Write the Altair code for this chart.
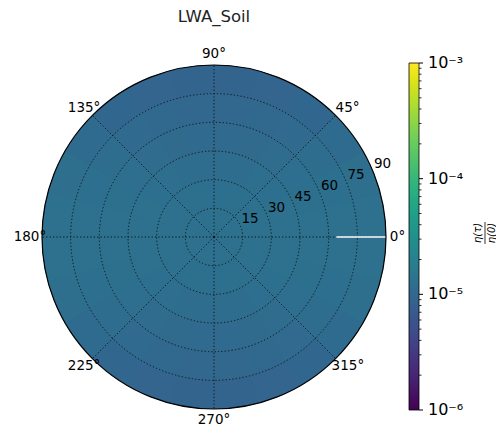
import math
import altair as alt
import pandas as pd

title_text = "LWA_Soil"
ring_edges = [0, 15, 30, 45, 60, 75, 90]
sector_step = 15
# eta(tau)/eta(0) in units of 1e-5; rows = rings (inner -> outer), columns = 15-degree sectors from 0 deg counter-clockwise
cell_values = [
    [1.30, 1.30, 1.30, 1.30, 1.30, 1.30, 1.30, 1.30, 1.30, 1.30, 1.30, 1.30,
     1.30, 1.30, 1.30, 1.30, 1.30, 1.30, 1.30, 1.30, 1.30, 1.30, 1.30, 1.30],
    [1.30, 1.29, 1.28, 1.26, 1.25, 1.24, 1.24, 1.25, 1.26, 1.28, 1.29, 1.30,
     1.30, 1.29, 1.28, 1.26, 1.25, 1.24, 1.24, 1.25, 1.26, 1.28, 1.29, 1.30],
    [1.30, 1.28, 1.24, 1.20, 1.17, 1.16, 1.16, 1.17, 1.20, 1.24, 1.28, 1.30,
     1.30, 1.28, 1.24, 1.20, 1.17, 1.16, 1.16, 1.17, 1.20, 1.24, 1.28, 1.30],
    [1.30, 1.26, 1.20, 1.13, 1.08, 1.06, 1.06, 1.08, 1.13, 1.20, 1.26, 1.30,
     1.30, 1.26, 1.20, 1.13, 1.08, 1.06, 1.06, 1.08, 1.13, 1.20, 1.26, 1.30],
    [1.30, 1.24, 1.15, 1.05, 0.99, 0.96, 0.96, 0.99, 1.05, 1.15, 1.24, 1.30,
     1.30, 1.24, 1.15, 1.05, 0.99, 0.96, 0.96, 0.99, 1.05, 1.15, 1.24, 1.30],
    [1.29, 1.22, 1.10, 0.98, 0.91, 0.88, 0.88, 0.91, 0.98, 1.10, 1.22, 1.29,
     1.29, 1.22, 1.10, 0.98, 0.91, 0.88, 0.88, 0.91, 0.98, 1.10, 1.22, 1.29],
]
base_value = 1.15e-5
grid_radii = [15, 30, 45, 60, 75]
outer_radius = 90
radial_ticks = [15, 30, 45, 60, 75, 90]
radial_label_angle = 22.5
angle_ticks = [0, 45, 90, 135, 180, 225, 270, 315]
angle_labels = ["0°", "45°", "90°", "135°", "180°", "225°", "270°", "315°"]
seam_r = [64, 90]
cbar_major = [1e-6, 1e-5, 1e-4, 1e-3]
cbar_major_labels = ["10⁻⁶", "10⁻⁵", "10⁻⁴", "10⁻³"]
cbar_minor = [2e-6, 3e-6, 4e-6, 5e-6, 6e-6, 7e-6, 8e-6, 9e-6,
              2e-5, 3e-5, 4e-5, 5e-5, 6e-5, 7e-5, 8e-5, 9e-5,
              2e-4, 3e-4, 4e-4, 5e-4, 6e-4, 7e-4, 8e-4, 9e-4]

W = 344
FONT = "DejaVu Sans"

theta_scale = alt.Scale(domain=[0, 360], range=[math.pi / 2, math.pi / 2 - 2 * math.pi])
r_scale = alt.Scale(type="linear", domain=[0, 90], range=[0, W / 2], zero=True, nice=False)
xs = alt.Scale(domain=[-90, 90], nice=False, zero=False)
ys = alt.Scale(domain=[-90, 90], nice=False, zero=False)
cscale = alt.Scale(type="log", domain=[1e-6, 1e-3], scheme="viridis")
cbar_y = alt.Scale(type="log", domain=[1e-6, 1e-3], range=[345, -2], nice=False)
cleg = alt.Legend(
    type="gradient", orient="none", legendX=367, legendY=-2, direction="vertical",
    gradientLength=347, gradientThickness=10, labelOpacity=0, labelFontSize=1,
    title=None, padding=0, gradientStrokeColor="black", gradientStrokeWidth=0.8)

rows = []
for i, ring in enumerate(cell_values):
    for j, v in enumerate(ring):
        rows.append({"t0": j * sector_step, "t1": (j + 1) * sector_step,
                     "r0": ring_edges[i], "r1": ring_edges[i + 1], "v": v * 1e-5})
cells_df = pd.DataFrame(rows)

base_df = pd.DataFrame({"r": [outer_radius], "t0": [0], "t1": [360], "v": [base_value]})
base = alt.Chart(base_df).mark_arc().encode(
    theta=alt.Theta("t0:Q", scale=theta_scale, stack=None),
    theta2="t1:Q",
    radius=alt.Radius("r:Q", scale=r_scale),
    color=alt.Color("v:Q", scale=cscale, legend=cleg),
)

cells = alt.Chart(cells_df).mark_arc().encode(
    theta=alt.Theta("t0:Q", scale=theta_scale, stack=None),
    theta2="t1:Q",
    radius=alt.Radius("r1:Q", scale=r_scale),
    radius2="r0:Q",
    color=alt.Color("v:Q", scale=cscale, legend=cleg),
)

circ_df = pd.DataFrame({"r": grid_radii, "t0": [0] * len(grid_radii), "t1": [360] * len(grid_radii)})
grid_circles = alt.Chart(circ_df).mark_arc(filled=False, stroke="#111", strokeWidth=1,
                                           strokeDash=[1.2, 2.2]).encode(
    theta=alt.Theta("t0:Q", scale=theta_scale, stack=None),
    theta2="t1:Q",
    radius=alt.Radius("r:Q", scale=r_scale),
)

spoke_df = pd.DataFrame({"a": angle_ticks})
spoke_df["x0"] = 0.0
spoke_df["y0"] = 0.0
spoke_df["x1"] = [outer_radius * math.cos(math.radians(a)) for a in angle_ticks]
spoke_df["y1"] = [outer_radius * math.sin(math.radians(a)) for a in angle_ticks]
spokes = alt.Chart(spoke_df).mark_rule(color="#111", strokeWidth=1, strokeDash=[1.2, 2.2]).encode(
    x=alt.X("x0:Q", scale=xs, axis=None), y=alt.Y("y0:Q", scale=ys, axis=None),
    x2="x1:Q", y2="y1:Q",
)

seam_df = pd.DataFrame({"x0": [seam_r[0]], "x1": [seam_r[1]], "y0": [0.0]})
seam = alt.Chart(seam_df).mark_rule(color="white", strokeWidth=1.6).encode(
    x=alt.X("x0:Q", scale=xs, axis=None), x2="x1:Q",
    y=alt.Y("y0:Q", scale=ys, axis=None),
)

outer_df = pd.DataFrame({"r": [outer_radius], "t0": [0], "t1": [360]})
outer = alt.Chart(outer_df).mark_arc(filled=False, stroke="black", strokeWidth=1.2).encode(
    theta=alt.Theta("t0:Q", scale=theta_scale, stack=None),
    theta2="t1:Q",
    radius=alt.Radius("r:Q", scale=r_scale),
)

rl_df = pd.DataFrame({"r": radial_ticks, "lab": [str(r) for r in radial_ticks]})
rl_df["x"] = [r * math.cos(math.radians(radial_label_angle)) for r in radial_ticks]
rl_df["y"] = [r * math.sin(math.radians(radial_label_angle)) for r in radial_ticks]
radial_labels = alt.Chart(rl_df).mark_text(align="left", baseline="bottom", font=FONT,
                                           fontSize=13.5, color="black", dx=1).encode(
    x=alt.X("x:Q", scale=xs, axis=None), y=alt.Y("y:Q", scale=ys, axis=None), text="lab:N",
)

angle_layers = []
for a, lab in zip(angle_ticks, angle_labels):
    c = math.cos(math.radians(a))
    s = math.sin(math.radians(a))
    diag = abs(c) > 0.1 and abs(s) > 0.1
    R = 90 if diag else 92
    align = "left" if c > 0.1 else ("right" if c < -0.1 else "center")
    baseline = "bottom" if s > 0.1 else ("top" if s < -0.1 else "middle")
    dx = 8 if c < -0.1 else (-4 if (diag and s < 0) else 0)
    df = pd.DataFrame({"x": [R * c], "y": [R * s], "lab": [lab]})
    angle_layers.append(
        alt.Chart(df).mark_text(align=align, baseline=baseline, font=FONT, fontSize=13.5,
                                color="black", dx=dx).encode(
            x=alt.X("x:Q", scale=xs, axis=None), y=alt.Y("y:Q", scale=ys, axis=None), text="lab:N")
    )

major_df = pd.DataFrame({"v": cbar_major, "lab": cbar_major_labels})
major_ticks = alt.Chart(major_df).mark_rule(color="black", strokeWidth=1).encode(
    y=alt.Y("v:Q", scale=cbar_y, axis=None), x=alt.value(377), x2=alt.value(381),
)
major_labels = alt.Chart(major_df).mark_text(align="left", baseline="middle", font=FONT,
                                             fontSize=16, color="black").encode(
    y=alt.Y("v:Q", scale=cbar_y, axis=None), x=alt.value(386), text="lab:N",
)
minor_df = pd.DataFrame({"v": cbar_minor})
minor_ticks = alt.Chart(minor_df).mark_rule(color="black", strokeWidth=0.8).encode(
    y=alt.Y("v:Q", scale=cbar_y, axis=None), x=alt.value(377), x2=alt.value(379.5),
)

frac_df = pd.DataFrame({"num": ["η(τ)"], "den": ["η(0)"]})
frac_num = alt.Chart(frac_df).mark_text(angle=270, align="center", baseline="middle", font=FONT,
                                        fontSize=10, fontStyle="italic", color="black").encode(
    x=alt.value(436), y=alt.value(168), text="num:N")
frac_den = alt.Chart(frac_df).mark_text(angle=270, align="center", baseline="middle", font=FONT,
                                        fontSize=10, fontStyle="italic", color="black").encode(
    x=alt.value(450), y=alt.value(168), text="den:N")
frac_bar = alt.Chart(frac_df).mark_rule(color="black", strokeWidth=0.8).encode(
    x=alt.value(443), y=alt.value(157), y2=alt.value(179))

title_df = pd.DataFrame({"t": [title_text]})
title = alt.Chart(title_df).mark_text(align="center", baseline="middle", font=FONT,
                                      fontSize=16.5, color="#222").encode(
    x=alt.value(172), y=alt.value(-48), text="t:N")

chart = alt.layer(
    base, cells, grid_circles, spokes, seam, outer, radial_labels, *angle_layers,
    major_ticks, minor_ticks, major_labels, frac_num, frac_bar, frac_den, title,
).resolve_scale(y="independent", x="independent").properties(
    width=W, height=W,
    autosize=alt.AutoSizeParams(type="none"),
    padding={"left": 34, "top": 57, "right": 110, "bottom": 18},
).configure_view(strokeWidth=0)

chart.save("out.html", embed_options={"renderer": "svg", "actions": False})
